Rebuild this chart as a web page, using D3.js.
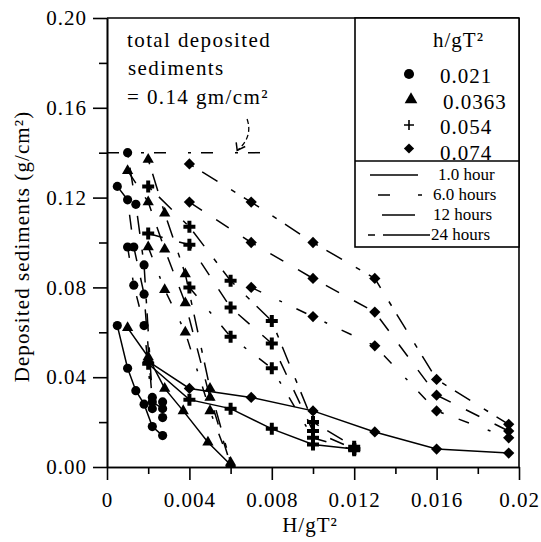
<!DOCTYPE html>
<html>
<head>
<meta charset="utf-8">
<script src="https://cdn.jsdelivr.net/npm/d3@7"></script>
<style>
  body { margin: 0; background: #fff; }
  text { font-family: "Liberation Serif", "Times New Roman", serif; fill: #000; }
</style>
</head>
<body>
<script>
// axis ticks
var xTickValues = [0, 0.004, 0.008, 0.012, 0.016, 0.02];
var xTickLabels = ["0", "0.004", "0.008", "0.012", "0.016", "0.02"];
var xMinorTicks = [0.002, 0.006, 0.010, 0.014, 0.018];
var yTickValues = [0, 0.04, 0.08, 0.12, 0.16, 0.20];
var yTickLabels = ["0.00", "0.04", "0.08", "0.12", "0.16", "0.20"];
var yMinorTicks = [0.02, 0.06, 0.10, 0.14, 0.18];

// legend entries
var ratios = ["0.021", "0.0363", "0.054", "0.074"];
var durations = ["1.0 hour", "6.0 hours", "12 hours", "24 hours"];

// total deposited sediments reference level
var totalDeposited = 0.14;
var totalDepositedExtent = [0, 0.0075];

// h/gT2 = 0.021 (circles) : [H/gT2, deposited]
var circle1h  = [[0.0005, 0.063], [0.001, 0.044], [0.0014, 0.034], [0.0018, 0.028], [0.0022, 0.018], [0.0027, 0.014]];
var circle6h  = [[0.001, 0.098], [0.0013, 0.081], [0.0018, 0.063], [0.0022, 0.026], [0.0027, 0.022]];
var circle12h = [[0.0005, 0.125], [0.001, 0.119], [0.0013, 0.098], [0.0018, 0.077], [0.0022, 0.029], [0.0027, 0.026]];
var circle24h = [[0.001, 0.140], [0.0014, 0.117], [0.0018, 0.090], [0.0022, 0.031], [0.0027, 0.029]];

// h/gT2 = 0.0363 (triangles)
var triangle1h  = [[0.001, 0.062], [0.002, 0.049], [0.0028, 0.035], [0.0037, 0.025], [0.0049, 0.011], [0.006, 0.001]];
var triangle6h  = [[0.002, 0.098], [0.0028, 0.079], [0.0038, 0.060], [0.005, 0.025], [0.006, 0.001]];
var triangle12h = [[0.001, 0.132], [0.002, 0.118], [0.0028, 0.097], [0.0038, 0.073], [0.005, 0.031], [0.006, 0.001]];
var triangle24h = [[0.002, 0.137], [0.0028, 0.113], [0.0038, 0.086], [0.005, 0.035], [0.006, 0.002]];

// h/gT2 = 0.054 (plus)
var plus1h  = [[0.002, 0.046], [0.004, 0.030], [0.006, 0.026], [0.008, 0.017], [0.010, 0.010], [0.012, 0.008]];
var plus6h  = [[0.004, 0.080], [0.006, 0.058], [0.008, 0.044], [0.010, 0.013], [0.012, 0.0075]];
var plus12h = [[0.002, 0.104], [0.004, 0.099], [0.006, 0.071], [0.008, 0.055], [0.010, 0.016], [0.012, 0.008]];
var plus24h = [[0.002, 0.125], [0.004, 0.107], [0.006, 0.083], [0.008, 0.065], [0.010, 0.020], [0.012, 0.009]];

// h/gT2 = 0.074 (diamonds)
var diamond1h  = [[0.002, 0.047], [0.004, 0.035], [0.007, 0.031], [0.010, 0.025], [0.013, 0.0156], [0.016, 0.008], [0.0195, 0.0062]];
var diamond6h  = [[0.007, 0.080], [0.010, 0.067], [0.013, 0.054], [0.016, 0.025], [0.0195, 0.013]];
var diamond12h = [[0.004, 0.118], [0.007, 0.100], [0.010, 0.084], [0.013, 0.069], [0.016, 0.032], [0.0195, 0.016]];
var diamond24h = [[0.004, 0.135], [0.007, 0.118], [0.010, 0.100], [0.013, 0.084], [0.016, 0.039], [0.0195, 0.019]];

var series = [
  {shape: 0, time: 0, data: circle1h},   {shape: 0, time: 1, data: circle6h},
  {shape: 0, time: 2, data: circle12h},  {shape: 0, time: 3, data: circle24h},
  {shape: 1, time: 0, data: triangle1h}, {shape: 1, time: 1, data: triangle6h},
  {shape: 1, time: 2, data: triangle12h},{shape: 1, time: 3, data: triangle24h},
  {shape: 2, time: 0, data: plus1h},     {shape: 2, time: 1, data: plus6h},
  {shape: 2, time: 2, data: plus12h},    {shape: 2, time: 3, data: plus24h},
  {shape: 3, time: 0, data: diamond1h},  {shape: 3, time: 1, data: diamond6h},
  {shape: 3, time: 2, data: diamond12h}, {shape: 3, time: 3, data: diamond24h}
];

// dash patterns: the legend samples, and the (sparser looking) curves in the plot
var legendDashes = [null, "12,28,4,12", "34,12", "7,8,48,8"];
var plotDashes = [null, "11,20,3,16", "15,17", "5,10,18,16"];

// set the dimensions and margins of the graph
var margin = {top: 18, right: 22, bottom: 75, left: 107},
    width = 541 - margin.left - margin.right,
    height = 542 - margin.top - margin.bottom;

var x = d3.scaleLinear().domain([0, 0.02]).range([0, width]);
var y = d3.scaleLinear().domain([0, 0.2]).range([height, 0]);

var svg = d3.select("body").append("svg")
    .attr("width", 541)
    .attr("height", 542)
  .append("g")
    .attr("transform", "translate(" + margin.left + "," + margin.top + ")");

// custom diamond marker
var fatDiamond = {
  draw: function(context, size) {
    var r = Math.sqrt(size) / 2 * 1.05;
    context.moveTo(0, -r);
    context.lineTo(r, 0);
    context.lineTo(0, r);
    context.lineTo(-r, 0);
    context.closePath();
  }
};

function drawMarker(sel, shape, legend) {
  if (shape === 2 && legend) {
    sel.append("path").attr("d", "M-5,0H5M0,-5V5")
      .attr("stroke", "#000").attr("stroke-width", 1.6).attr("fill", "none");
    return;
  }
  var sym = d3.symbol();
  if (shape === 0) sym.type(d3.symbolCircle).size(legend ? 80 : 66);
  if (shape === 1) sym.type(d3.symbolTriangle).size(legend ? 70 : 55);
  if (shape === 2) sym.type(d3.symbolCross).size(80);
  if (shape === 3) sym.type(fatDiamond).size(legend ? 95 : 115);
  sel.append("path").attr("d", sym()).attr("fill", "#000");
}

// minor ticks
svg.append("g")
    .attr("transform", "translate(0," + height + ")")
    .call(d3.axisBottom(x).tickValues(xMinorTicks).tickSize(7).tickSizeOuter(0).tickFormat(""));
svg.append("g")
    .call(d3.axisLeft(y).tickValues(yMinorTicks).tickSize(8).tickSizeOuter(0).tickFormat(""));

// Add the x Axis
svg.append("g")
    .attr("class", "xaxis")
    .attr("transform", "translate(0," + height + ")")
    .call(d3.axisBottom(x).tickValues(xTickValues).tickSize(13).tickSizeOuter(0).tickPadding(12)
      .tickFormat(function(d, i) { return xTickLabels[i]; }));

// Add the y Axis
svg.append("g")
    .attr("class", "yaxis")
    .call(d3.axisLeft(y).tickValues(yTickValues).tickSize(14).tickSizeOuter(0).tickPadding(6)
      .tickFormat(function(d, i) { return yTickLabels[i]; }));

svg.selectAll(".domain, .tick line").attr("stroke", "#000").attr("stroke-width", 1.6);
svg.selectAll(".tick text")
    .attr("font-family", "Liberation Serif, Times New Roman, serif")
    .attr("font-size", 21)
    .style("letter-spacing", "1px")
    .attr("fill", "#000");

// frame top and right
svg.append("line").attr("x1", 0).attr("x2", width).attr("y1", 0).attr("y2", 0)
    .attr("stroke", "#000").attr("stroke-width", 1.6);
svg.append("line").attr("x1", width).attr("x2", width).attr("y1", 0).attr("y2", height)
    .attr("stroke", "#000").attr("stroke-width", 1.6);

// axis titles
svg.append("text")
    .attr("transform", "translate(" + (width / 2 - 3) + "," + (height + 65) + ")")
    .style("text-anchor", "middle")
    .attr("font-size", 21)
    .style("letter-spacing", "1px")
    .text("H/gT²");

svg.append("text")
    .attr("transform", "translate(" + (-margin.left + 29) + "," + (height / 2 + 4) + ") rotate(-90)")
    .style("text-anchor", "middle")
    .attr("font-size", 21)
    .style("letter-spacing", "1.1px")
    .text("Deposited sediments (g/cm²)");

// the curves
var valueline = d3.line()
    .x(function(d) { return x(d[0]); })
    .y(function(d) { return y(d[1]); });

series.forEach(function(s) {
  svg.append("path")
      .datum(s.data)
      .attr("fill", "none")
      .attr("stroke", "#000")
      .attr("stroke-width", 1.5)
      .attr("stroke-dasharray", plotDashes[s.time])
      .attr("d", valueline);
});

series.forEach(function(s) {
  s.data.forEach(function(d) {
    var g = svg.append("g").attr("transform", "translate(" + x(d[0]) + "," + y(d[1]) + ")");
    drawMarker(g, s.shape, false);
  });
});

// total deposited level and annotation
svg.append("line")
    .attr("x1", x(totalDepositedExtent[0])).attr("x2", x(totalDepositedExtent[1]))
    .attr("y1", y(totalDeposited)).attr("y2", y(totalDeposited))
    .attr("stroke", "#000").attr("stroke-width", 1.5)
    .attr("stroke-dasharray", "12,22,3,10");

var ann = svg.append("g").attr("font-size", 21).style("letter-spacing", "1.4px");
ann.append("text").attr("x", 20).attr("y", 29).text("total deposited");
ann.append("text").attr("x", 21).attr("y", 57).text("sediments");
ann.append("text").attr("x", 20).attr("y", 86).text("= 0.14 gm/cm²");

var arrowTip = [0.00632, totalDeposited + 0.001];
svg.append("path")
    .attr("d", "M" + x(0.0068) + "," + y(0.155) +
               " Q" + x(0.0071) + "," + y(0.147) + " " + x(arrowTip[0]) + "," + y(arrowTip[1]))
    .attr("fill", "none").attr("stroke", "#000").attr("stroke-width", 1.3)
    .attr("stroke-dasharray", "5,3");
svg.append("path")
    .attr("d", "M" + (x(arrowTip[0]) - 1) + "," + (y(arrowTip[1]) - 8) +
               " L" + x(arrowTip[0]) + "," + y(arrowTip[1]) +
               " L" + (x(arrowTip[0]) + 8) + "," + (y(arrowTip[1]) - 4))
    .attr("fill", "none").attr("stroke", "#000").attr("stroke-width", 1.5);

// legend
var lg = svg.append("g").attr("transform", "translate(" + (width - 164) + ",0)");
lg.append("rect").attr("x", 0).attr("y", 0).attr("width", 164).attr("height", 229)
    .attr("fill", "#fff").attr("stroke", "#000").attr("stroke-width", 1.6);
lg.append("line").attr("x1", 0).attr("x2", 164).attr("y1", 143).attr("y2", 143)
    .attr("stroke", "#000").attr("stroke-width", 1.6);

lg.append("text").attr("x", 78).attr("y", 29).attr("font-size", 21)
    .style("letter-spacing", "1px").text("h/gT²");

ratios.forEach(function(r, i) {
  var yy = 57 + i * 25.5;
  var m = lg.append("g").attr("transform", "translate(" + (i === 1 ? 56 : 54) + "," + (yy - 1 - (i === 3 ? 2 : 0)) + ")");
  drawMarker(m, i, true);
  lg.append("text")
      .attr("x", i === 1 ? 88 : 85)
      .attr("y", yy + 8)
      .attr("font-size", 21)
      .style("letter-spacing", "1px")
      .text(r);
});

var lineStarts = [15, 23, 27, 13];
var lineEnds = [63, 67, 60, 75];
var textStarts = [83, 78, 78, 76];
durations.forEach(function(t, i) {
  var yy = 157 + i * 20;
  lg.append("line")
      .attr("x1", lineStarts[i]).attr("x2", lineEnds[i])
      .attr("y1", yy).attr("y2", yy)
      .attr("stroke", "#000").attr("stroke-width", 1.5)
      .attr("stroke-dasharray", legendDashes[i]);
  lg.append("text")
      .attr("x", textStarts[i])
      .attr("y", yy + 5)
      .attr("font-size", 17)
      .text(t);
});
</script>
</body>
</html>
